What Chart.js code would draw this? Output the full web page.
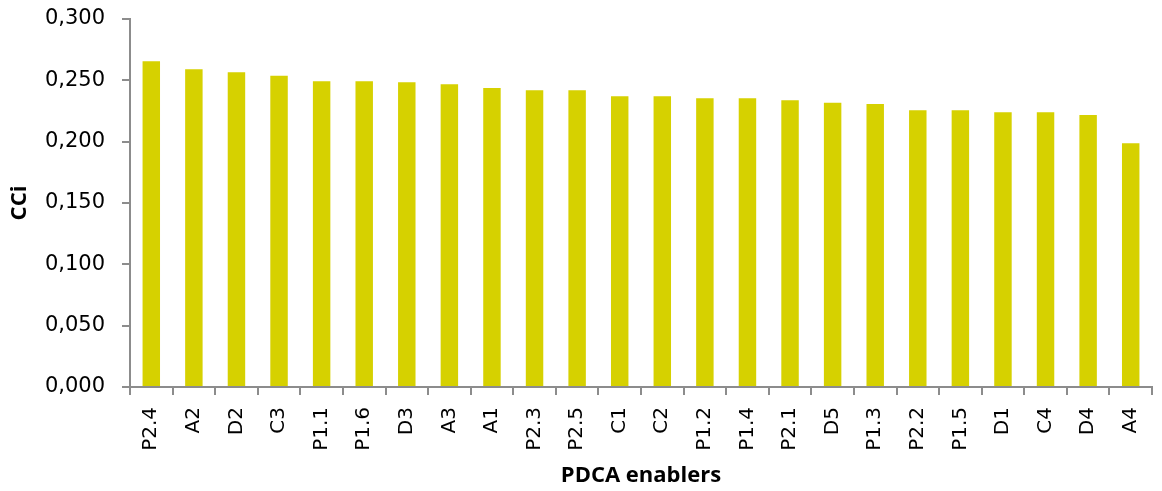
<!DOCTYPE html>
<html>
<head>
<meta charset="utf-8">
<script src="https://cdn.jsdelivr.net/npm/chart.js@4"></script>
<style>
  html, body { margin: 0; padding: 0; background: #fff; }
  #wrap { width: 1162px; height: 491px; }
</style>
</head>
<body>
<div id="wrap"><canvas id="cciChart"></canvas></div>
<script>
var enablers = ["P2.4", "A2", "D2", "C3", "P1.1", "P1.6", "D3", "A3", "A1", "P2.3", "P2.5", "C1",
  "C2", "P1.2", "P1.4", "P2.1", "D5", "P1.3", "P2.2", "P1.5", "D1", "C4", "D4", "A4"];
var cciValues = [0.2655, 0.2590, 0.2565, 0.2537, 0.2492, 0.2492, 0.2484, 0.2468, 0.2437, 0.2419, 0.2419, 0.2370,
  0.2370, 0.2353, 0.2353, 0.2337, 0.2318, 0.2307, 0.2256, 0.2256, 0.2239, 0.2239, 0.2217, 0.1987];
var yTicks = [0, 0.05, 0.1, 0.15, 0.2, 0.25, 0.3];

var axisGrey = "#8c8c8c";

new Chart("cciChart", {
  type: "bar",
  data: {
    labels: enablers,
    datasets: [
      {
        data: cciValues,
        backgroundColor: "#d6d100",
        borderWidth: 0,
        barPercentage: 0.41,
        categoryPercentage: 1,
      },
    ],
  },
  options: {
    responsive: true,
    maintainAspectRatio: false,
    animation: false,
    layout: { padding: { top: 19, right: 10, bottom: 2, left: 0 } },
    plugins: {
      legend: { display: false },
      tooltip: { enabled: false },
    },
    scales: {
      x: {
        afterFit: function (scale) {
          scale.height = 102;
          scale.paddingLeft = 0;
          scale.paddingRight = 0;
        },
        grid: {
          offset: true,
          drawOnChartArea: false,
          tickLength: 8,
          color: axisGrey,
          lineWidth: 2,
        },
        border: { color: axisGrey, width: 2 },
        ticks: {
          minRotation: 90,
          maxRotation: 90,
          padding: 12,
          color: "#000",
          font: { family: "DejaVu Sans", size: 20 },
        },
        title: {
          display: true,
          text: "PDCA enablers",
          color: "#000",
          padding: { top: 10, bottom: 0 },
          font: { family: "Open Sans", size: 22, weight: "bold" },
        },
      },
      y: {
        min: 0,
        max: 0.3,
        afterBuildTicks: function (scale) {
          scale.ticks = yTicks.map(function (v) { return { value: v }; });
        },
        afterFit: function (scale) {
          scale.width = 130;
          scale.paddingTop = 0;
          scale.paddingBottom = 0;
        },
        grid: {
          drawOnChartArea: false,
          tickLength: 8,
          color: axisGrey,
          lineWidth: 2,
        },
        border: { color: axisGrey, width: 2 },
        ticks: {
          padding: 17,
          color: "#000",
          font: { family: "DejaVu Sans", size: 21 },
          callback: function (value) {
            return value.toFixed(3).replace(".", ",");
          },
        },
        title: {
          display: true,
          text: "CCi",
          color: "#000",
          padding: { top: 7, bottom: 0 },
          font: { family: "Open Sans", size: 22, weight: "bold" },
        },
      },
    },
  },
});
</script>
</body>
</html>
